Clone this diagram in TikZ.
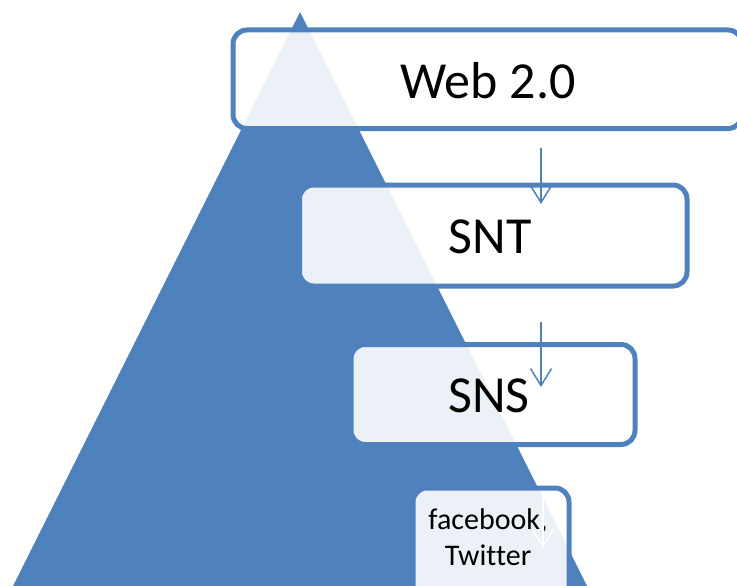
\documentclass[tikz,border=0pt]{standalone}
\usepackage{fontspec}
\setmainfont{Carlito}[Ligatures={NoCommon}]
\usetikzlibrary{arrows.meta}
\definecolor{accent}{HTML}{4F81BD}
\tikzset{
  stage/.style={draw=accent, line width=5pt, fill=white, fill opacity=0.89,
                text opacity=1, rounded corners=14pt},
  stagetext/.style={inner sep=0pt, align=center, text=black},
  flow/.style={draw=accent, line width=1.5pt,
               -{Straight Barb[length=17pt,width=21pt,line width=1.5pt]}},
  flowlight/.style={flow, draw=white}
}
\begin{document}
\begin{tikzpicture}[x=1pt, y=-1pt]
  \useasboundingbox (0,0) rectangle (737,586);
  \clip (0,0) rectangle (737,586);

  % pyramid
  \fill[accent] (300,12) -- (0,612) -- (600,612) -- cycle;

  % stage boxes
  \path[stage] (233,30) rectangle (742,128.5);
  \path[stage] (299.5,185) rectangle (687,286);
  \path[stage] (351,344.5) rectangle (635,444.5);
  \path[stage] (413,488) rectangle (569,620);

  % labels
  \node[stagetext, font=\fontsize{52}{62}\selectfont] (web) at (488,81) {Web 2.0};
  \node[stagetext, font=\fontsize{52}{62}\selectfont] (snt) at (490,237) {SNT};
  \node[stagetext, font=\fontsize{52}{62}\selectfont] (sns) at (489,396) {SNS};
  \node[stagetext, font=\fontsize{30}{36}\selectfont] (fb) at (488,537) {facebook,\\Twitter};

  % connectors
  \coordinate (a1s) at (541,148);
  \coordinate (a1e) at (541,204);
  \coordinate (a2s) at (541,322);
  \coordinate (a2e) at (541,387);
  \coordinate (a3s) at (543,498);
  \coordinate (a3e) at (543,548);
  \draw[flow] (a1s) -- (a1e);
  \draw[flow] (a2s) -- (a2e);
  \draw[flowlight] (a3s) -- (a3e);
\end{tikzpicture}
\end{document}
